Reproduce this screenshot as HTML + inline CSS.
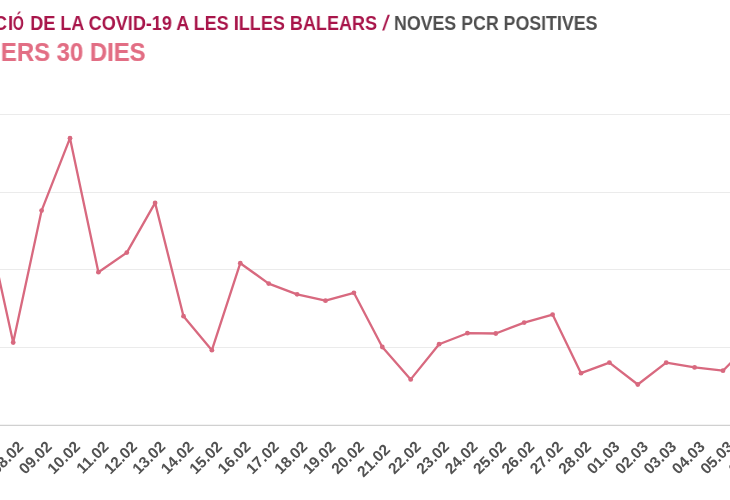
<!DOCTYPE html>
<html><head><meta charset="utf-8"><style>
html,body{margin:0;padding:0;background:#fff;width:730px;height:500px;overflow:hidden}
.t1{position:absolute;left:-69.2px;top:10.8px;line-height:21px;white-space:nowrap;font:bold 21px "Liberation Sans",sans-serif;color:#a8154a;will-change:transform;transform:scaleX(0.859);transform-origin:0 0}
.t1 .ev1{display:inline-block;transform:translateX(1px)}
.t1 .ev{display:inline-block;transform:translateX(2.3px)}
.t1 .eo{transform:translateX(2.3px) scaleX(0.78);transform-origin:0 0}
.t1 .sl{display:inline-block;transform:skewX(-13deg) translateX(1.5px)}
.t1 .g{color:#4f4f4f;display:inline-block;transform:scaleX(0.985);transform-origin:0 0;margin-left:2.7px}
.t2{position:absolute;left:-67.9px;top:36.9px;line-height:26px;white-space:nowrap;font:bold 26px "Liberation Sans",sans-serif;color:#e26e84;will-change:transform;-webkit-text-stroke:0.2px #e26e84;transform:scaleX(0.918);transform-origin:0 0;clip-path:inset(0 0 0 76px)}
svg{position:absolute;left:0;top:0;will-change:transform}
</style></head><body>
<div class="t1" id="t1"><span class="ev1">EVOLUC</span><span class="ev">I</span><span class="ev eo">Ó</span> DE LA COVID-19 A LES ILLES BALEARS <span class="sl">/</span> <span class="g">NOVES PCR POSITIVES</span></div>
<div class="t2" id="t2">DARRERS 30 DIES</div>
<svg width="730" height="500" viewBox="0 0 730 500">
<g stroke="#ebebeb" stroke-width="1"><line x1="0" x2="730" y1="114.5" y2="114.5"/><line x1="0" x2="730" y1="192.5" y2="192.5"/><line x1="0" x2="730" y1="269.5" y2="269.5"/><line x1="0" x2="730" y1="347.5" y2="347.5"/></g>
<line x1="0" x2="730" y1="425.3" y2="425.3" stroke="#d0d0d0" stroke-width="1.2"/>
<polyline points="-15.2,213.0 13.2,342.5 41.6,210.6 70.0,138.2 98.4,272.2 126.8,252.6 155.1,202.9 183.5,316.2 211.9,350.2 240.3,263.2 268.7,283.6 297.1,294.3 325.5,300.7 353.9,292.8 382.3,347.0 410.7,379.4 439.1,344.2 467.4,333.2 495.8,333.5 524.2,322.6 552.6,314.6 581.0,373.2 609.4,362.6 637.8,384.5 666.2,362.7 694.6,367.4 723.0,370.7 751.3,342.3" fill="none" stroke="#d8697f" stroke-width="2.3" stroke-linejoin="round"/>
<g fill="#d8697f"><circle cx="-15.2" cy="213.0" r="2.4"/>
<circle cx="13.2" cy="342.5" r="2.4"/>
<circle cx="41.6" cy="210.6" r="2.4"/>
<circle cx="70.0" cy="138.2" r="2.4"/>
<circle cx="98.4" cy="272.2" r="2.4"/>
<circle cx="126.8" cy="252.6" r="2.4"/>
<circle cx="155.1" cy="202.9" r="2.4"/>
<circle cx="183.5" cy="316.2" r="2.4"/>
<circle cx="211.9" cy="350.2" r="2.4"/>
<circle cx="240.3" cy="263.2" r="2.4"/>
<circle cx="268.7" cy="283.6" r="2.4"/>
<circle cx="297.1" cy="294.3" r="2.4"/>
<circle cx="325.5" cy="300.7" r="2.4"/>
<circle cx="353.9" cy="292.8" r="2.4"/>
<circle cx="382.3" cy="347.0" r="2.4"/>
<circle cx="410.7" cy="379.4" r="2.4"/>
<circle cx="439.1" cy="344.2" r="2.4"/>
<circle cx="467.4" cy="333.2" r="2.4"/>
<circle cx="495.8" cy="333.5" r="2.4"/>
<circle cx="524.2" cy="322.6" r="2.4"/>
<circle cx="552.6" cy="314.6" r="2.4"/>
<circle cx="581.0" cy="373.2" r="2.4"/>
<circle cx="609.4" cy="362.6" r="2.4"/>
<circle cx="637.8" cy="384.5" r="2.4"/>
<circle cx="666.2" cy="362.7" r="2.4"/>
<circle cx="694.6" cy="367.4" r="2.4"/>
<circle cx="723.0" cy="370.7" r="2.4"/>
<circle cx="751.3" cy="342.3" r="2.4"/></g>
<g style="font-family:'Liberation Sans',sans-serif;font-weight:bold;font-size:15.5px" fill="#525252" text-anchor="end">
<text transform="translate(-4.0,447.6) rotate(-45)">07.02</text>
<text transform="translate(24.4,447.6) rotate(-45)">08.02</text>
<text transform="translate(52.8,447.6) rotate(-45)">09.02</text>
<text transform="translate(81.2,447.6) rotate(-45)">10.02</text>
<text transform="translate(109.6,447.6) rotate(-45)">11.02</text>
<text transform="translate(138.0,447.6) rotate(-45)">12.02</text>
<text transform="translate(166.3,447.6) rotate(-45)">13.02</text>
<text transform="translate(194.7,447.6) rotate(-45)">14.02</text>
<text transform="translate(223.1,447.6) rotate(-45)">15.02</text>
<text transform="translate(251.5,447.6) rotate(-45)">16.02</text>
<text transform="translate(279.9,447.6) rotate(-45)">17.02</text>
<text transform="translate(308.3,447.6) rotate(-45)">18.02</text>
<text transform="translate(336.7,447.6) rotate(-45)">19.02</text>
<text transform="translate(365.1,447.6) rotate(-45)">20.02</text>
<text transform="translate(391.0,450.6) rotate(-45)">21.02</text>
<text transform="translate(421.9,447.6) rotate(-45)">22.02</text>
<text transform="translate(450.2,447.6) rotate(-45)">23.02</text>
<text transform="translate(478.6,447.6) rotate(-45)">24.02</text>
<text transform="translate(507.0,447.6) rotate(-45)">25.02</text>
<text transform="translate(535.4,447.6) rotate(-45)">26.02</text>
<text transform="translate(563.8,447.6) rotate(-45)">27.02</text>
<text transform="translate(592.2,447.6) rotate(-45)">28.02</text>
<text transform="translate(620.6,447.6) rotate(-45)">01.03</text>
<text transform="translate(649.0,447.6) rotate(-45)">02.03</text>
<text transform="translate(677.4,447.6) rotate(-45)">03.03</text>
<text transform="translate(705.8,447.6) rotate(-45)">04.03</text>
<text transform="translate(734.2,447.6) rotate(-45)">05.03</text>
<text transform="translate(762.5,447.6) rotate(-45)">06.03</text>
</g>
</svg>
</body></html>
